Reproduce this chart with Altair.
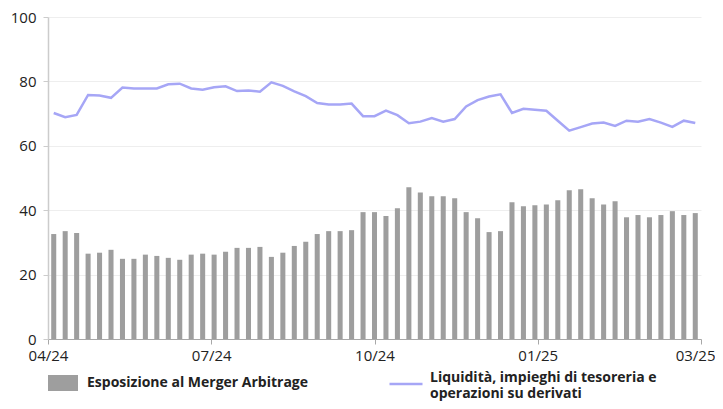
import altair as alt
import pandas as pd

tick_labels = ["04/24", "07/24", "10/24", "01/25", "03/25"]
series_names = ["Esposizione al Merger Arbitrage",
                "Liquidità, impieghi di tesoreria e operazioni su derivati"]
line_label_lines = ["Liquidità, impieghi di tesoreria e", "operazioni su derivati"]

merger = [32.6, 33.5, 32.9, 26.5, 26.8, 27.7, 24.9, 24.9, 26.2, 25.8,
          25.2, 24.6, 26.2, 26.5, 26.2, 27.1, 28.3, 28.3, 28.6, 25.5,
          26.8, 28.9, 30.2, 32.6, 33.5, 33.5, 33.8, 39.4, 39.4, 38.2,
          40.6, 47.1, 45.5, 44.3, 44.3, 43.7, 39.4, 37.5, 33.2, 33.5,
          42.5, 41.2, 41.5, 41.8, 43.1, 46.2, 46.5, 43.7, 41.8, 42.8,
          37.8, 38.5, 37.8, 38.5, 39.7, 38.5, 39.1]
liquid = [70.2, 68.9, 69.6, 75.8, 75.6, 74.9, 78.1, 77.8, 77.8, 77.8,
          79.1, 79.3, 77.8, 77.4, 78.2, 78.5, 77.0, 77.2, 76.8, 79.7,
          78.6, 76.9, 75.4, 73.3, 72.8, 72.8, 73.1, 69.2, 69.2, 70.9,
          69.5, 67.0, 67.5, 68.6, 67.5, 68.3, 72.2, 74.2, 75.3, 76.0,
          70.2, 71.5, 71.2, 70.9, 67.8, 64.7, 65.8, 66.9, 67.2, 66.2,
          67.8, 67.5, 68.3, 67.2, 65.9, 67.8, 67.1]

n = len(merger)
df = pd.DataFrame({"i": list(range(n)), "merger": merger, "liquid": liquid})
df["x0"] = df["i"] + 0.28
df["x1"] = df["i"] + 0.72
df["xm"] = df["i"] + 0.5
df["s1"] = series_names[0]
df["s2"] = series_names[1]

step = n / (len(tick_labels) - 1)
tick_vals = [k * step for k in range(len(tick_labels))]
label_list = "[" + ",".join("'" + t + "'" for t in tick_labels) + "]"
line_label_expr = "[" + ",".join("'" + t + "'" for t in line_label_lines) + "]"

x_scale = alt.Scale(domain=[0, n], nice=False, zero=False)
y_scale = alt.Scale(domain=[0, 100], nice=False)

last_test = f"datum.value >= {n - 0.01}"
x_axis = alt.Axis(values=tick_vals, labelExpr=f"{label_list}[round(datum.value/{step})]",
                  grid=False, title=None, domainColor="#a8a8a8", tickColor="#a8a8a8",
                  tickSize=5, labelPadding=4, labelFontSize=15, labelColor="#222222",
                  labelFont="Open Sans", labelFlush=False, labelOverlap=False,
                  labelAlign={"condition": {"test": last_test, "value": "right"}, "value": "center"},
                  labelOffset={"condition": {"test": last_test, "value": 14}, "value": 0})
y_axis = alt.Axis(values=[0, 20, 40, 60, 80, 100], title=None, grid=True,
                  gridColor="#eeeeee", gridWidth=1, domainColor="#cccccc", domainWidth=1.5,
                  tickColor="#cccccc", tickSize=5, labelPadding=7, labelFontSize=15,
                  labelColor="#222222", labelFont="Open Sans")

bars = alt.Chart(df).mark_bar(color="#9e9e9e").encode(
    x=alt.X("x0:Q", scale=x_scale, axis=x_axis),
    x2="x1:Q",
    y=alt.Y("merger:Q", scale=y_scale, axis=y_axis),
    y2=alt.datum(0),
    fill=alt.Fill("s1:N", scale=alt.Scale(range=["#9e9e9e"]),
                  legend=alt.Legend(title=None, orient="none", legendX=0, legendY=351,
                                    symbolType="M-1,-0.5333H1V0.5333H-1Z", symbolSize=900,
                                    symbolStrokeWidth=0, labelOffset=9, labelFontSize=14,
                                    labelFont="Open Sans", labelFontWeight="bold",
                                    labelColor="#222222", labelLimit=400, padding=0)),
)

line = alt.Chart(df).mark_line(strokeWidth=2.5).encode(
    x=alt.X("xm:Q", scale=x_scale, axis=x_axis),
    y=alt.Y("liquid:Q", scale=y_scale, axis=y_axis),
    stroke=alt.Stroke("s2:N", scale=alt.Scale(range=["#a6a6f6"]),
                      legend=alt.Legend(title=None, orient="none", legendX=340, legendY=343,
                                        symbolType="M-1,0.36L1,0.36", symbolSize=1089,
                                        symbolStrokeWidth=2.5, labelOffset=6, labelFontSize=14,
                                        labelFont="Open Sans", labelFontWeight="bold",
                                        labelColor="#222222", labelLimit=400, padding=0,
                                        labelExpr=line_label_expr)),
)

chart = alt.layer(bars, line).properties(
    width=653, height=322,
    padding={"left": 40, "top": 9, "right": 14, "bottom": 62},
    autosize=alt.AutoSizeParams(type="none"),
).configure_view(stroke=None)

chart.save("out.html", embed_options={"renderer": "svg", "actions": False})
